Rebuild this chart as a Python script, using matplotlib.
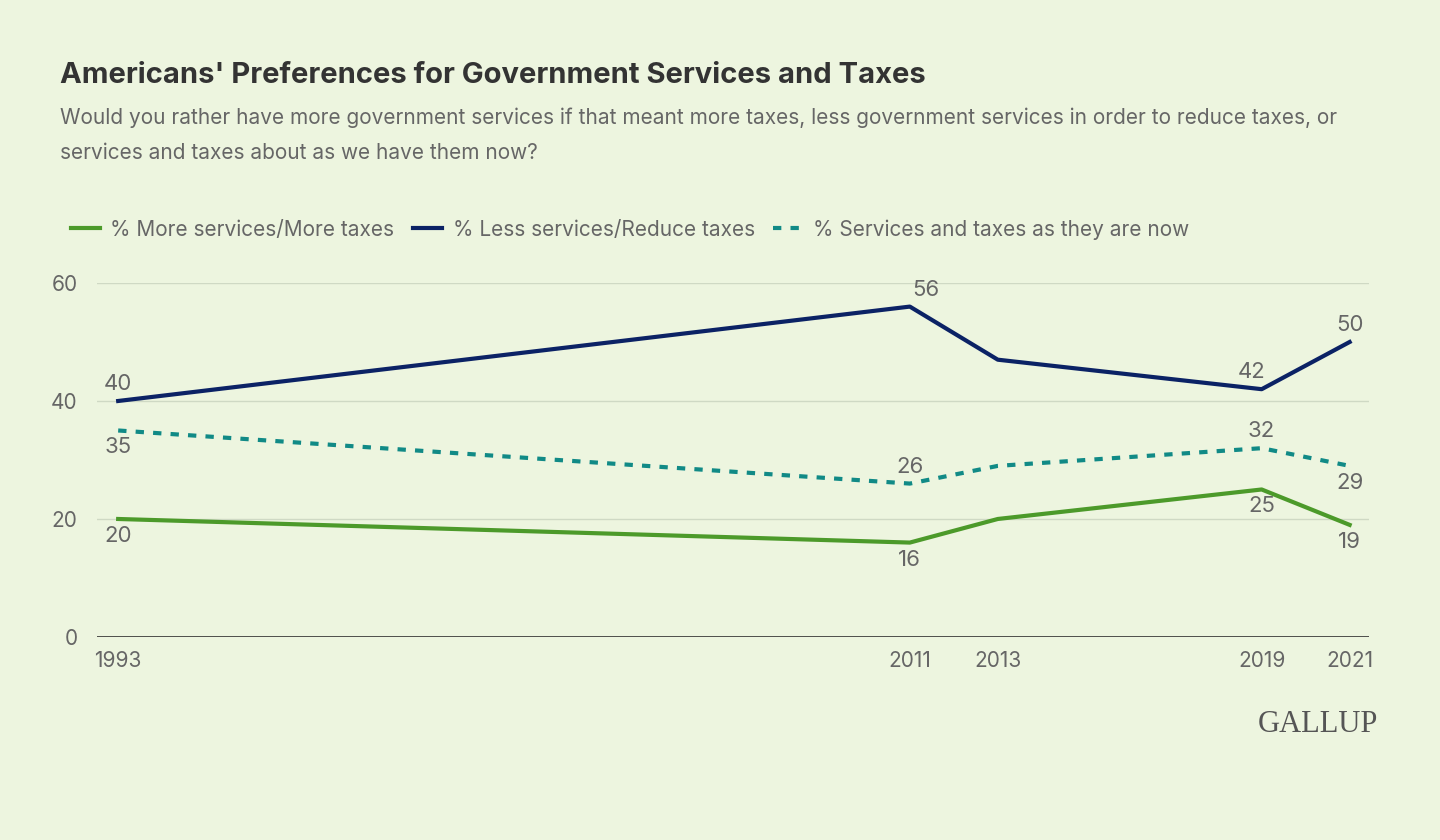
import matplotlib
matplotlib.use("Agg")
import matplotlib.pyplot as plt

years = [1993, 2011, 2013, 2019, 2021]
more = [20, 16, 20, 25, 19]
less = [40, 56, 47, 42, 50]
same = [35, 26, 29, 32, 29]
labels_idx = [0, 1, 3, 4]
more_off = [-1, -1, -1, -1]
less_off = [1, 1, 1, 1]
same_off = [-1, 1, 1, -1]
less_dx = [0, 16, -10, 0]

bg = "#edf5df"
c_more, c_less, c_same = "#4c9a2a", "#0b2265", "#118a86"
tc = "#666666"

plt.rcParams['font.family'] = ['Inter', 'DejaVu Sans']
fig = plt.figure(figsize=(14.4, 8.4), dpi=100, facecolor=bg)
ax = fig.add_axes([0.0674, 0.2417, 0.951 - 0.0674, 0.4214])
ax.set_facecolor(bg)
ax.set_xlim(1992.52, 2021.45)
ax.set_ylim(0, 60)
for s in ax.spines.values():
    s.set_visible(False)
ax.axhline(0, color="#333333", lw=1.2, zorder=2)
for v in [20, 40, 60]:
    ax.axhline(v, color="#cfd9c4", lw=1, zorder=1)
ax.set_yticks([0, 20, 40, 60])
ax.set_xticks(years)
ax.tick_params(length=0, labelsize=15, colors=tc, pad=10)
ax.tick_params(axis='y', pad=14)

ax.plot(years, more, color=c_more, lw=3, label="% More services/More taxes", clip_on=False)
ax.plot(years, less, color=c_less, lw=3, label="% Less services/Reduce taxes", clip_on=False)
ax.plot(years, same, color=c_same, lw=3, ls=(0, (2, 2.2)), label="% Services and taxes as they are now", clip_on=False)

for data, off, dxs in [(more, more_off, [0]*4), (less, less_off, less_dx), (same, same_off, [0]*4)]:
    for k, i in enumerate(labels_idx):
        o = off[k]
        ax.annotate(str(data[i]), (years[i], data[i]), xytext=(dxs[k] * 0.72, 5 * o), textcoords="offset points",
                    ha="center", va="bottom" if o > 0 else "top", fontsize=16, color=tc)

fig.text(0.042, 0.91, "Americans' Preferences for Government Services and Taxes", fontsize=21,
         fontweight="bold", color="#333333", va="center")
fig.text(0.042, 0.86, "Would you rather have more government services if that meant more taxes, less government services in order to reduce taxes, or",
         fontsize=15, color=tc, va="center")
fig.text(0.042, 0.818, "services and taxes about as we have them now?", fontsize=15, color=tc, va="center")
fig.legend(loc="center left", bbox_to_anchor=(0.036, 0.727), ncol=3, frameon=False, fontsize=15,
           labelcolor=tc, handlelength=1.4, columnspacing=0.9, handletextpad=0.5)
fig.text(0.957, 0.138, "GALLUP", fontsize=22, family="Liberation Serif", color="#555555", ha="right", va="center")

fig.savefig("out.png", dpi=100, facecolor=bg)
